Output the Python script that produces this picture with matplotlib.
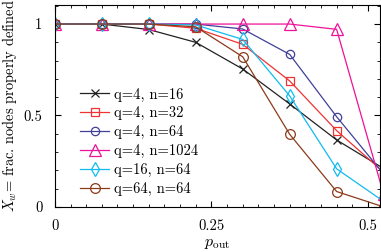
import matplotlib.pyplot as plt
import numpy as np
from matplotlib.ticker import MultipleLocator

plt.rcParams['font.family'] = 'serif'
plt.rcParams['font.serif'] = ['cmr10']
plt.rcParams['mathtext.fontset'] = 'cm'
plt.rcParams['axes.formatter.use_mathtext'] = True

p_out = [0, 0.075, 0.15, 0.225, 0.3, 0.375, 0.45, 0.525]

q4_n16 = [1.0, 1.0, 0.97, 0.90, 0.754, 0.563, 0.366, 0.21]
q4_n32 = [1.0, 1.0, 1.0, 0.977, 0.889, 0.689, 0.417, 0.19]
q4_n64 = [1.0, 1.0, 1.0, 1.0, 0.973, 0.834, 0.493, 0.18]
q4_n1024 = [1.0, 1.0, 1.0, 1.0, 1.0, 1.0, 0.971, 0.07]
q16_n64 = [1.0, 1.0, 1.0, 0.995, 0.916, 0.607, 0.208, 0.03]
q64_n64 = [1.0, 1.0, 1.0, 0.985, 0.821, 0.397, 0.084, 0.0]

labels = ['q=4, n=16', 'q=4, n=32', 'q=4, n=64', 'q=4, n=1024', 'q=16, n=64', 'q=64, n=64']
series = [q4_n16, q4_n32, q4_n64, q4_n1024, q16_n64, q64_n64]
colors = ['#222222', '#ee3333', '#404098', '#ee1199', '#11bbee', '#8b3a1a']
markers = ['x', 's', 'o', '^', 'd', 'o']
msizes = [6, 6, 6, 8, 7, 7]

fig = plt.figure(figsize=(3.81, 2.52), dpi=100)
ax = fig.add_axes([0.144, 0.179, 0.853, 0.801])

for y, lab, c, m, ms in zip(series, labels, colors, markers, msizes):
    ax.plot(p_out, y, color=c, lw=0.9, marker=m, ms=ms, mfc='none', mec=c, mew=0.9, label=lab)

ax.set_xlim(0, 0.519)
ax.set_ylim(0, 1.104)
ax.set_xticks([0, 0.25, 0.5])
ax.set_xticklabels(['0', '0.25', '0.5'])
ax.set_yticks([0, 0.5, 1])
ax.set_yticklabels(['0', '0.5', '1'])
ax.xaxis.set_minor_locator(MultipleLocator(0.025))
ax.yaxis.set_minor_locator(MultipleLocator(0.1))
ax.tick_params(which='both', direction='in', top=True, right=True, labelsize=10.5)
ax.tick_params(which='major', length=4, pad=9)
ax.tick_params(which='minor', length=2.5)

ax.set_xlabel(r'$p_{\rm out}$', fontsize=11.5, labelpad=3)
ax.set_ylabel(r'$X_w$= frac. nodes properly defined', fontsize=10.4, labelpad=3)

ax.legend(loc='upper left', bbox_to_anchor=(0.06, 0.62), frameon=False, fontsize=10.5,
          handlelength=2.0, labelspacing=0.33, handletextpad=0.3, borderaxespad=0)

fig.savefig('out.png', dpi=100)
